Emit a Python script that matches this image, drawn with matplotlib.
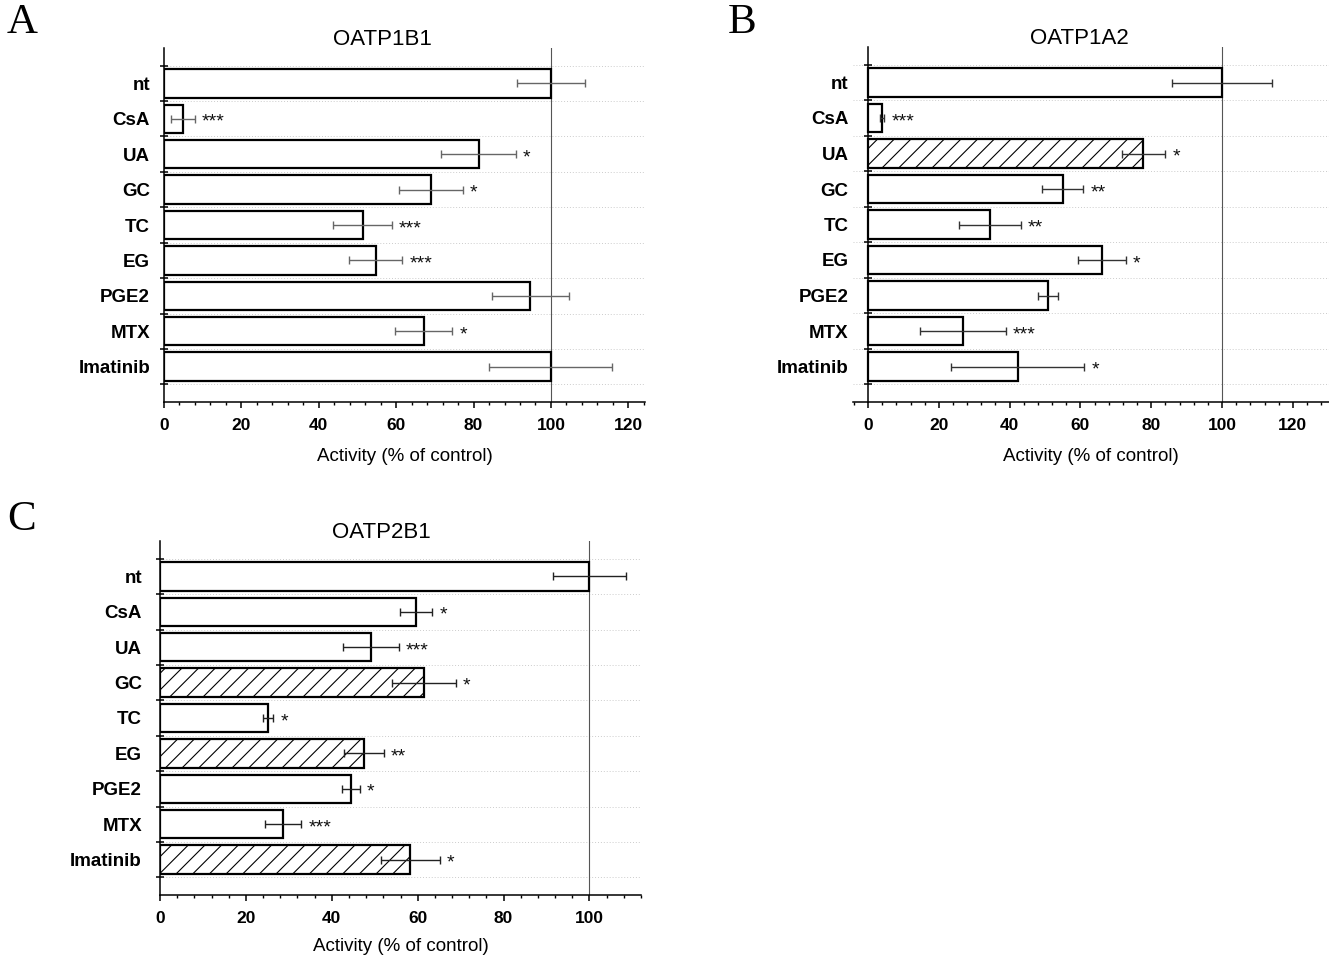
import numpy as np
import matplotlib
matplotlib.use("Agg")
import matplotlib.pyplot as plt
from matplotlib.ticker import MultipleLocator

categories = ["nt", "CsA", "UA", "GC", "TC", "EG", "PGE2", "MTX", "Imatinib"]

a_vals = [100, 4.9, 81.3, 68.9, 51.3, 54.7, 94.7, 67.1, 99.9]
a_errs = [8.8, 3.0, 9.7, 8.3, 7.6, 6.9, 10.0, 7.4, 15.8]
a_sig = ["", "***", "*", "*", "***", "***", "", "*", ""]
a_hatch = [False] * 9

b_vals = [100, 4.0, 77.8, 55.0, 34.4, 66.1, 50.8, 26.8, 42.3]
b_errs = [14.2, 0.6, 6.2, 5.8, 8.7, 6.8, 2.8, 12.2, 18.8]
b_sig = ["", "***", "*", "**", "**", "*", "", "***", "*"]
b_hatch = [False, False, True, False, False, False, False, False, False]

c_vals = [100, 59.6, 49.2, 61.5, 25.2, 47.5, 44.4, 28.7, 58.3]
c_errs = [8.5, 3.8, 6.5, 7.4, 1.2, 4.6, 2.1, 4.2, 6.8]
c_sig = ["", "*", "***", "*", "*", "**", "*", "***", "*"]
c_hatch = [False, False, False, True, False, True, False, False, True]

FONT = "Liberation Sans"
plt.rcParams["font.family"] = [FONT, "DejaVu Sans"]
plt.rcParams["hatch.linewidth"] = 0.8

W, H = 1329, 957
fig = plt.figure(figsize=(W / 100, H / 100), dpi=100)


def px_axes(x0, x1, ytop, ybot):
    return fig.add_axes([x0 / W, (H - ybot) / H, (x1 - x0) / W, (ybot - ytop) / H])


def panel(ax, title, vals, errs, sig, hatch, xlim, ecol, ylab_pad, title_frac,
          xlabpad, spine_at_zero=False):
    if spine_at_zero:
        ax.spines["left"].set_position(("data", 0))
    y = np.arange(len(categories))
    for yi, v, h in zip(y, vals, hatch):
        ax.barh(yi, v, height=0.8, color="white", edgecolor="black",
                linewidth=1.6, hatch="//" if h else None, zorder=3)
    ax.errorbar(vals, y, xerr=errs, fmt="none", ecolor=ecol, elinewidth=1.0,
                capsize=3, capthick=1.0, zorder=4)
    for yi, v, e, s in zip(y, vals, errs, sig):
        if s:
            ax.annotate(s, xy=(v + e, yi), xytext=(5, -2.5), textcoords="offset points",
                        ha="left", va="center", fontsize=14, color="#111111")
    ax.axvline(100, color="#555555", lw=0.8, zorder=2)
    ax.set_xlim(*xlim)
    ax.set_ylim(9.0, -1.0)
    ax.set_yticks(np.arange(-0.5, 9.0, 1.0))
    ax.set_yticklabels([])
    ax.set_yticks(y, minor=True)
    ax.set_yticklabels(categories, minor=True, fontsize=13.5, fontweight="bold")
    ax.tick_params(axis="y", which="major", direction="inout", length=6, width=1.1)
    ax.tick_params(axis="y", which="minor", length=0, pad=ylab_pad)
    ax.xaxis.set_major_locator(MultipleLocator(20))
    ax.xaxis.set_minor_locator(MultipleLocator(4))
    ax.tick_params(axis="x", which="major", direction="out", length=4.5, width=1.1,
                   labelsize=12.5, pad=7)
    ax.tick_params(axis="x", which="minor", direction="out", length=2.5, width=1.0)
    for lab in ax.get_xticklabels():
        lab.set_fontweight("bold")
    ax.yaxis.grid(True, which="major", ls=(0, (1, 2)), color="#cccccc", lw=0.7, zorder=0)
    ax.set_axisbelow(True)
    for s in ("top", "right"):
        ax.spines[s].set_visible(False)
    for s in ("left", "bottom"):
        ax.spines[s].set_linewidth(1.1)
    ax.set_xlabel("Activity (% of control)", fontsize=13.5, labelpad=xlabpad)
    ax.annotate(title, xy=(title_frac, 1.0), xycoords="axes fraction", xytext=(0, 2.5),
                textcoords="offset points", ha="center", va="baseline", fontsize=16)


axA = px_axes(164, 645, 48, 402)
panel(axA, "OATP1B1", a_vals, a_errs, a_sig, a_hatch, (0, 124.3), "#666666", 10, 0.455, 11)

axB = px_axes(852.8, 1329, 47, 402)
panel(axB, "OATP1A2", b_vals, b_errs, b_sig, b_hatch, (-4.3, 130.2), "#333333", 14, 0.476, 11,
      spine_at_zero=True)

axC = px_axes(160, 641, 541, 895)
panel(axC, "OATP2B1", c_vals, c_errs, c_sig, c_hatch, (0, 112), "#222222", 13, 0.46, 9)

for letter, x, yy in (("A", 22, 23), ("B", 742, 23), ("C", 22, 520)):
    fig.text(x / W, (H - yy) / H, letter, ha="center", va="center",
             fontsize=31, family=["Liberation Serif", "DejaVu Serif"])

fig.savefig("out.png", dpi=100)
